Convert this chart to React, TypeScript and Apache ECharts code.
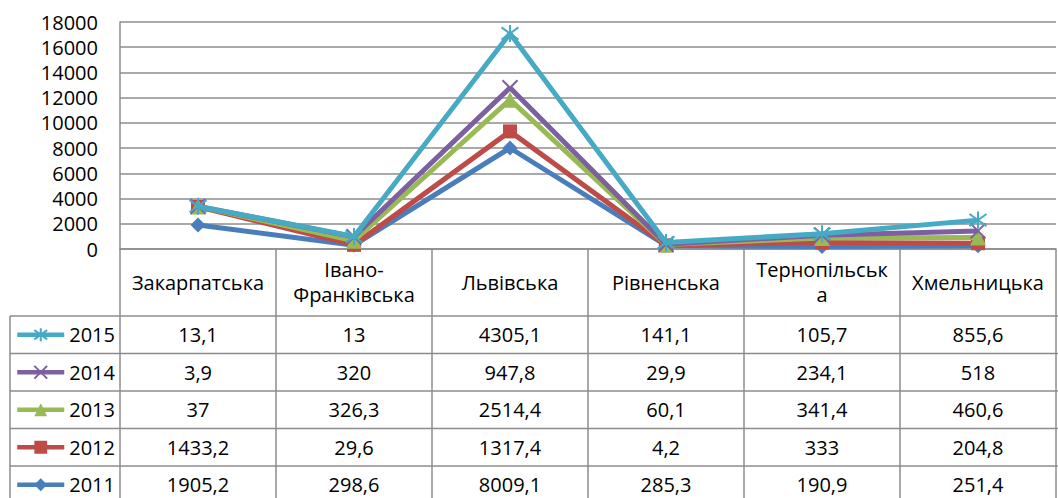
import React, { useEffect, useRef } from "react";
import * as echarts from "echarts";

const categories = ["Закарпатська", "Івано-Франківська", "Львівська", "Рівненська", "Тернопільська", "Хмельницька"];
const headerLabels = ["Закарпатська", "Івано-\nФранківська", "Львівська", "Рівненська", "Тернопільськ\nа", "Хмельницька"];
const years = ["2011", "2012", "2013", "2014", "2015"];
const v2011 = [1905.2, 298.6, 8009.1, 285.3, 190.9, 251.4];
const v2012 = [1433.2, 29.6, 1317.4, 4.2, 333, 204.8];
const v2013 = [37, 326.3, 2514.4, 60.1, 341.4, 460.6];
const v2014 = [3.9, 320, 947.8, 29.9, 234.1, 518];
const v2015 = [13.1, 13, 4305.1, 141.1, 105.7, 855.6];
const yTicks = { min: 0, max: 18000, interval: 2000 };

const values = [v2011, v2012, v2013, v2014, v2015];
const colors = ["#4A7EBB", "#BE4B48", "#98B954", "#7D60A0", "#46AAC5"];
const symbols = [
  "diamond",
  "rect",
  "triangle",
  "path://M0,0L10,10M10,0L0,10",
  "path://M0,0L10,10M10,0L0,10M5,-2L5,12",
];
const symbolSizes = [15, 14, 16, 15, 17];

const FONT = "Open Sans";
const FS = 20;
const GRID_LEFT = 120;
const GRID_TOP = 22;
const AXIS_Y = 249;
const RIGHT = 1056;
const TABLE_LEFT = 10;
const HEADER_BOTTOM = 316;
const ROW_H = 37.5;
const LINE_COLOR = "#8c8c8c";

function fmt(v: number) {
  return String(v).replace(".", ",");
}

export default function App() {
  const ref = useRef<HTMLDivElement>(null);
  useEffect(() => {
    const chart = echarts.init(ref.current!, null, { renderer: "svg" });
    const colW = (RIGHT - GRID_LEFT) / categories.length;
    const rowOrder = [4, 3, 2, 1, 0];
    const graphics: any[] = [];
    const bottom = HEADER_BOTTOM + ROW_H * rowOrder.length;
    for (let i = 0; i <= rowOrder.length; i++) {
      const y = HEADER_BOTTOM + i * ROW_H;
      graphics.push({
        type: "line",
        shape: { x1: TABLE_LEFT, y1: y, x2: 1058, y2: y },
        style: { stroke: LINE_COLOR, lineWidth: 1.5 },
        silent: true,
      });
    }
    const vx = [TABLE_LEFT];
    for (let j = 0; j <= categories.length; j++) vx.push(GRID_LEFT + j * colW);
    vx.forEach((x) =>
      graphics.push({
        type: "line",
        shape: { x1: x, y1: HEADER_BOTTOM, x2: x, y2: bottom },
        style: { stroke: LINE_COLOR, lineWidth: 1.5 },
        silent: true,
      })
    );
    rowOrder.forEach((si, i) => {
      values[si].forEach((v, j) => {
        graphics.push({
          type: "text",
          x: GRID_LEFT + colW * (j + 0.5),
          y: HEADER_BOTTOM + ROW_H * (i + 0.5),
          style: {
            text: fmt(v),
            fontFamily: FONT,
            fontSize: FS,
            fill: "#000",
            align: "center",
            verticalAlign: "middle",
          },
          silent: true,
        });
      });
    });

    chart.setOption({
      animation: false,
      backgroundColor: "#fff",
      grid: { left: GRID_LEFT, top: GRID_TOP, right: 1058 - RIGHT, bottom: 498 - AXIS_Y, containLabel: false },
      legend: {
        orient: "vertical",
        left: 15,
        top: HEADER_BOTTOM + (ROW_H - 20) / 2,
        itemWidth: 47,
        itemHeight: 16,
        itemGap: ROW_H - 20,
        data: [...years].reverse(),
        lineStyle: { width: 4.5 },
        textStyle: { fontFamily: FONT, fontSize: FS, color: "#000", lineHeight: 20, padding: [0, 0, 0, 0] },
        padding: 0,
      },
      xAxis: {
        type: "category",
        data: categories,
        boundaryGap: true,
        axisLine: { show: true, lineStyle: { color: LINE_COLOR, width: 1.5 } },
        axisTick: { show: true, length: HEADER_BOTTOM - AXIS_Y, interval: 0, lineStyle: { color: LINE_COLOR, width: 1.5 } },
        axisLabel: {
          interval: 0,
          margin: 33,
          verticalAlign: "middle",
          fontFamily: FONT,
          fontSize: FS,
          lineHeight: 25,
          color: "#000",
          formatter: (_v: string, idx: number) => headerLabels[idx],
        },
        splitLine: { show: false },
      },
      yAxis: {
        type: "value",
        min: yTicks.min,
        max: yTicks.max,
        interval: yTicks.interval,
        axisLine: { show: true, lineStyle: { color: LINE_COLOR, width: 1.5 } },
        axisTick: { show: false },
        axisLabel: {
          fontFamily: FONT,
          fontSize: FS,
          color: "#000",
          margin: 22,
          formatter: (v: number) => String(v),
        },
        splitLine: { show: true, lineStyle: { color: LINE_COLOR, width: 1.5 } },
      },
      series: years.map((y, i) => ({
        name: y,
        type: "line",
        stack: "total",
        data: values[i],
        symbol: symbols[i],
        symbolSize: symbolSizes[i],
        showAllSymbol: true,
        lineStyle: { color: colors[i], width: 5 },
        itemStyle: {
          color: colors[i],
          borderColor: colors[i],
          borderWidth: i >= 3 ? 2 : 0,
        },
        emphasis: { disabled: true },
        z: 2 + i,
      })),
      graphic: graphics,
    });
    return () => chart.dispose();
  }, []);
  return <div ref={ref} style={{ width: 1058, height: 498, position: "absolute", left: 0, top: 0 }} />;
}
